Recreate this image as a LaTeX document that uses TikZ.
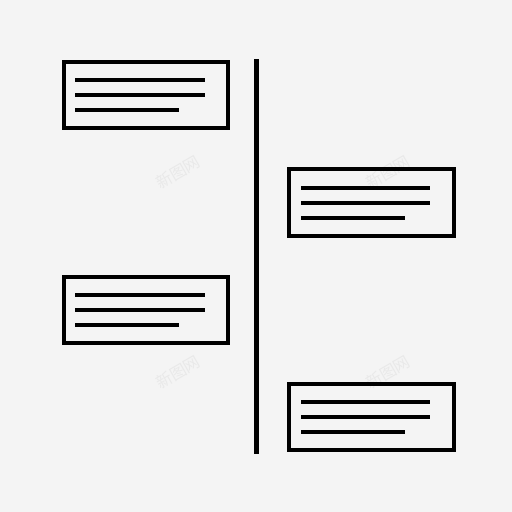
\documentclass[tikz,border=0pt]{standalone}
\usepackage{fontspec}
\newfontfamily\cjk{Noto Sans CJK SC}
\definecolor{bg}{HTML}{F4F4F4}
\definecolor{wm}{HTML}{E9E9E9}
\tikzset{
  card/.style={draw=black, line width=4pt},
  txt/.style={draw=black, line width=4pt},
  axis/.style={draw=black, line width=5pt},
  mark wm/.style={text=wm, font=\cjk\fontsize{16}{16}\selectfont, rotate=30}
}
\begin{document}
\begin{tikzpicture}[x=1pt,y=-1pt]
\fill[bg] (0,0) rectangle (512,512);
\useasboundingbox (0,0) rectangle (512,512);
% watermarks
\node[mark wm] (w1) at (178,172) {新图网};
\node[mark wm] (w2) at (388,172) {新图网};
\node[mark wm] (w3) at (178,372) {新图网};
\node[mark wm] (w4) at (388,372) {新图网};
% axis
\coordinate (top) at (256,59);
\coordinate (bot) at (256,454);
\draw[axis] (top) -- (bot);
% cards
\foreach \n/\xa/\xb/\ya/\yb/\la/\lb/\lc in {
  c1/64/228/62/128/75/205/179,
  c2/289/454/169/236/301/430/405,
  c3/64/228/277/343/75/205/179,
  c4/289/454/384/450/301/430/405}{
  \draw[card] (\xa,\ya) rectangle (\xb,\yb);
  \pgfmathsetmacro{\ym}{(\ya+\yb)/2}
  \draw[txt] (\la,\ym-15) -- (\lb,\ym-15);
  \draw[txt] (\la,\ym) -- (\lb,\ym);
  \draw[txt] (\la,\ym+15) -- (\lc,\ym+15);
}
\end{tikzpicture}
\end{document}
